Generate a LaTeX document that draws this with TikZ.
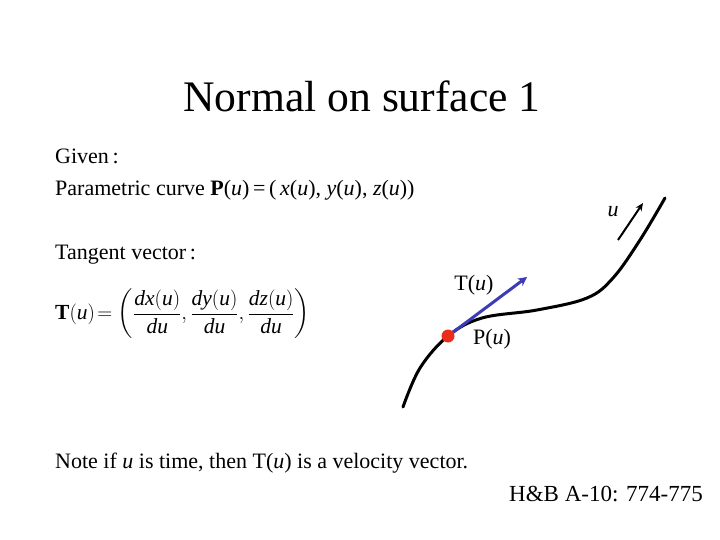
\documentclass[tikz,border=0pt]{standalone}
\usepackage{amsmath}
\usepackage{fontspec}
\setmainfont{Liberation Serif}
\usetikzlibrary{arrows.meta}
\definecolor{tanblue}{RGB}{60,60,185}
\definecolor{dotred}{RGB}{235,45,30}
\tikzset{
  body/.style={font=\fontsize{22}{26}\selectfont, inner sep=0pt},
  lbl/.style={font=\fontsize{22}{26}\selectfont, inner sep=0pt},
}
\begin{document}
\begin{tikzpicture}[x=1pt,y=-1pt]
\useasboundingbox (0,0) rectangle (720,540);
\node[font=\fontsize{43.6}{50}\selectfont, inner sep=0pt] (title) at (362,96) {Normal on surface 1};
\node[body, anchor=west] (given) at (55,156) {Given\,:};
\node[body, anchor=west] (param) at (55,190) {Parametric curve \textbf{P}(\textit{u})\,=\,(\,\textit{x}(\textit{u}), \textit{y}(\textit{u}), \textit{z}(\textit{u}))};
\node[body, anchor=west] (tanv) at (55,255) {Tangent vector\,:};
\node[font=\fontsize{21.5}{26}\selectfont, inner sep=0pt, anchor=west] (tform) at (55,314) {$\textbf{T}(\textit{u})\mskip2mu{=}\mskip2mu\left(\dfrac{\textit{dx}(\textit{u})}{\textit{du}},\dfrac{\textit{dy}(\textit{u})}{\textit{du}},\dfrac{\textit{dz}(\textit{u})}{\textit{du}}\right)$};
\node[body, anchor=west] (note) at (55,463) {Note if \textit{u} is time, then T(\textit{u}) is a velocity vector.};
\node[font=\fontsize{23}{27}\selectfont, inner sep=0pt, anchor=east] (ref) at (703,494) {H\&B A-10: 774-775};
% curve
\draw[line width=3pt, line cap=round] plot[smooth, tension=0.6] coordinates {(403,407) (420,368) (448,336) (482,318) (537,310) (587,298) (613,278) (640,240) (665,198)};
\coordinate (P) at (448,336);
\coordinate (Tend) at (527,277);
\draw[tanblue, line width=3pt, -{Stealth[length=9pt,width=9pt]}] (P) -- (Tend);
\fill[dotred] (P) circle (6.5);
\node[lbl, anchor=center] (Tl) at (474,285) {T(\textit{u})};
\node[lbl, anchor=center] (Pl) at (492,339) {P(\textit{u})};
\coordinate (ua) at (618,240);
\coordinate (ub) at (643,203);
\draw[line width=2pt, -{Stealth[length=8pt,width=7pt]}] (ua) -- (ub);
\node[lbl] (ul) at (613,212) {\textit{u}};
\end{tikzpicture}
\end{document}
